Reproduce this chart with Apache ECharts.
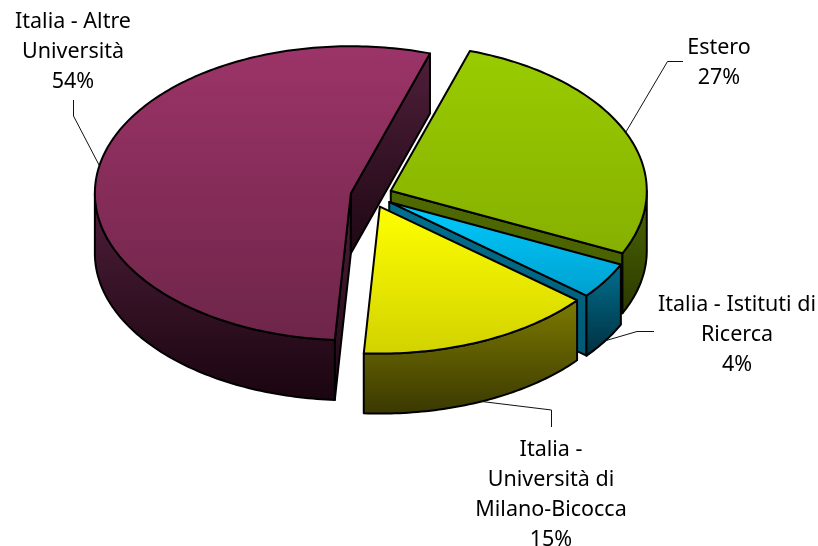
<!DOCTYPE html>
<html><head><meta charset="utf-8">
<style>html,body{margin:0;padding:0;background:#fff}#c{width:818px;height:546px}</style>
<script src="https://cdn.jsdelivr.net/npm/echarts@6/dist/echarts.min.js"></script></head>
<body><div id="c"></div>
<script>
// Data, clockwise from the pie's first angle
const categories = ['Estero', 'Italia - Istituti di\nRicerca', 'Italia -\nUniversità di\nMilano-Bicocca', 'Italia - Altre\nUniversità'];
const values = [27, 4, 15, 54];

// Styles and layout
const topColors = [['#99cc00','#86b000'],['#00ccff','#00a0cf'],['#ffff00','#d2d200'],['#9c3468','#6e2549']];
const wallColors = [['#4f6a00','#2a3800'],['#00708f','#002f3f'],['#7d7b00','#3a3800'],['#4f1f3a','#1a0510']];
const faceColors = [['#4f6a00','#465c00'],['#00708f','#005a75'],['#7d7b00','#3a3800'],['#4f1f3a','#1e0814']];
const labelPos = [[719,48],[737,305],[551,450],[73,22]];
const elbows = [[[667.5,61.5],[683,61.5]],[[637,331.5],[654,331.5]],[[551.5,410],[551.5,427]],[[73.5,116],[73.5,100]]];
const pie = {cx:371.5, cy:195.5, rx:256, ry:147, depth:60, explode:21, start:18};

const total = values.reduce((a,b)=>a+b,0);
const pct = values.map(v=>Math.round(v/total*100)+'%');
let acc = pie.start;
const spans = values.map(v=>{const a=acc; acc+=v/total*360; return [a,acc];});
const rad = d=>d*Math.PI/180;
const grad = c=>new echarts.graphic.LinearGradient(0,0,0,1,[{offset:0,color:c[0]},{offset:1,color:c[1]}]);

function renderItem(params, api){
  const i = params.dataIndex, [a,b] = spans[i], mid=(a+b)/2;
  const ox = pie.cx + pie.explode*Math.sin(rad(mid));
  const oy = pie.cy - pie.explode*(pie.ry/pie.rx)*Math.cos(rad(mid));
  const P = (t,dz=0)=>[ox+pie.rx*Math.sin(rad(t)), oy-pie.ry*Math.cos(rad(t))+dz];
  const poly = (pts,fill)=>({type:'polygon',shape:{points:pts},silent:true,
    style:{fill,stroke:'#000',lineWidth:2,lineJoin:'round'}});
  const kids = [];
  // cut faces, when turned to the viewer
  if (Math.sin(rad(a))<0) kids.push(poly([[ox,oy],P(a),P(a,pie.depth),[ox,oy+pie.depth]],grad(faceColors[i])));
  if (Math.sin(rad(b))>0) kids.push(poly([[ox,oy],P(b),P(b,pie.depth),[ox,oy+pie.depth]],grad(faceColors[i])));
  // outer wall: the part of the rim facing the viewer
  const w0=Math.max(a,90), w1=Math.min(b,270);
  if (w1>w0){
    const up=[],down=[];
    for(let t=w0;t<w1;t+=1){up.push(P(t));down.unshift(P(t,pie.depth));}
    up.push(P(w1));down.unshift(P(w1,pie.depth));
    kids.push(poly(up.concat(down),grad(wallColors[i])));
  }
  // top
  const top=[[ox,oy]];
  for(let t=a;t<b;t+=1) top.push(P(t));
  top.push(P(b));
  kids.push(poly(top,grad(topColors[i])));
  // leader line and label
  const onWall = Math.cos(rad(mid))<0;
  const s = P(mid,onWall?pie.depth:0);
  kids.push({type:'polyline',silent:true,shape:{points:[s].concat(elbows[i])},style:{fill:null,stroke:'#111',lineWidth:1}});
  kids.push({type:'text',silent:true,x:labelPos[i][0],y:labelPos[i][1]-15,style:{
    text:categories[i]+'\n'+pct[i],fill:'#000',font:'21.5px "Noto Sans"',align:'center',verticalAlign:'top',lineHeight:30}});
  return {type:'group',children:kids};
}
const chart = echarts.init(document.getElementById('c'),null,{renderer:'canvas'});
chart.setOption({animation:false,backgroundColor:'#fff',
  series:[{type:'custom',coordinateSystem:'none',renderItem,silent:true,data:values}]});
</script></body></html>
